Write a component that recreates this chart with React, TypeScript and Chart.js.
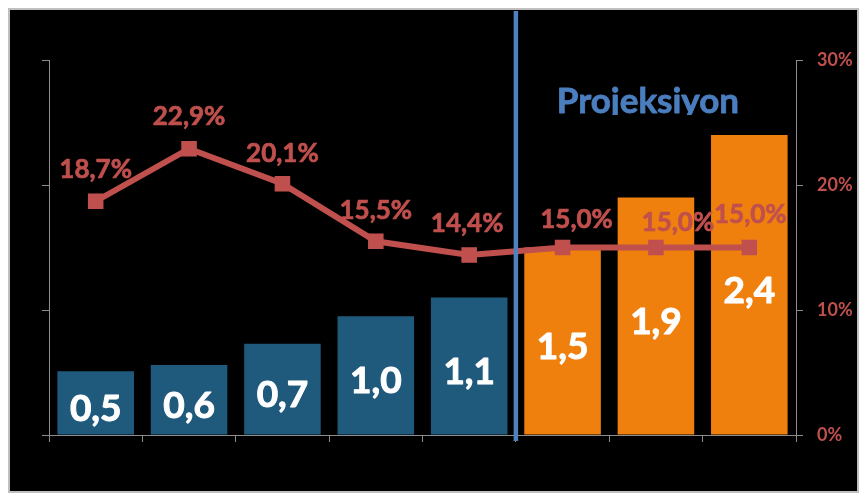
import React, { useEffect, useRef } from 'react';
import { Chart, registerables } from 'chart.js';

Chart.register(...registerables);

// ---- data ----
const categories = ['1', '2', '3', '4', '5', '6', '7', '8'];
const barValues = [0.51, 0.56, 0.73, 0.95, 1.1, 1.5, 1.9, 2.4];
const barLabels = ['0,5', '0,6', '0,7', '1,0', '1,1', '1,5', '1,9', '2,4'];
const growthValues = [18.7, 22.9, 20.1, 15.5, 14.4, 15.0, 15.0, 15.0];
const growthLabels = ['18,7%', '22,9%', '20,1%', '15,5%', '14,4%', '15,0%', '15,0%', '15,0%'];
const projectionStartIndex = 5;
const projectionTitle = 'Projeksiyon';
const leftAxisMax = 3;
const rightAxisMax = 30;
const rightAxisStep = 10;

// ---- styling (not data) ----
const BLUE_BAR = '#1F5A7C';
const ORANGE_BAR = '#EF800E';
const RED = '#C0504D';
const AXIS_GRAY = '#8c8c8c';
const FONT = 'Lato';
const lineLabelNudges: [number, number][] = [
  [0, -33], [0, -33], [0, -31], [0, -32], [-2, -32], [14, -29], [22, -26], [1, -34],
];

const W = 851;
const H = 485;

function boldText(ctx: CanvasRenderingContext2D, text: string, x: number, y: number, color: string, extra: number) {
  ctx.fillStyle = color;
  ctx.fillText(text, x, y);
  ctx.strokeStyle = color;
  ctx.lineWidth = extra;
  ctx.lineJoin = 'round';
  ctx.strokeText(text, x, y);
}

const overlayPlugin = {
  id: 'overlay',
  beforeDraw(chart: any) {
    const ctx = chart.ctx;
    ctx.save();
    ctx.fillStyle = '#000';
    ctx.fillRect(0, 0, chart.width, chart.height);
    ctx.restore();
  },
  afterDraw(chart: any) {
    const ctx = chart.ctx;
    const xs = chart.scales.x;
    ctx.save();
    // outer frame
    ctx.strokeStyle = '#bfbfbf';
    ctx.lineWidth = 2;
    ctx.strokeRect(1, 1, chart.width - 2, chart.height - 2);

    // bar labels
    const barMeta = chart.getDatasetMeta(1);
    ctx.font = `bold 37px ${FONT}`;
    ctx.textAlign = 'center';
    ctx.textBaseline = 'alphabetic';
    barMeta.data.forEach((el: any, i: number) => {
      const cy = (el.y + el.base) / 2 + 4.5;
      boldText(ctx, barLabels[i], el.x, cy + 0.36 * 37, '#ffffff', 1);
    });

    // line labels
    const lineMeta = chart.getDatasetMeta(0);
    ctx.font = `bold 26px ${FONT}`;
    lineMeta.data.forEach((pt: any, i: number) => {
      const [dx, dy] = lineLabelNudges[i];
      boldText(ctx, growthLabels[i], pt.x + dx, pt.y + dy + 0.36 * 26, RED, 0.7);
    });

    // projection divider
    const xb = (xs.getPixelForValue(projectionStartIndex - 1) + xs.getPixelForValue(projectionStartIndex)) / 2;
    ctx.strokeStyle = '#4F81BD';
    ctx.lineWidth = 4.5;
    ctx.beginPath();
    ctx.moveTo(xb, 3);
    ctx.lineTo(xb, chart.chartArea.bottom + 6);
    ctx.stroke();

    // projection title (clipped like a text box)
    ctx.beginPath();
    ctx.rect(0, 0, chart.width, 107);
    ctx.clip();
    ctx.font = `bold 35px ${FONT}`;
    boldText(ctx, projectionTitle, xs.getPixelForValue(6) - 8, 105, '#4A7EBF', 0.8);
    ctx.restore();
  },
};

export default function App() {
  const ref = useRef<HTMLCanvasElement | null>(null);
  useEffect(() => {
    if (!ref.current) return;
    const chart = new Chart(ref.current, {
      type: 'bar',
      data: {
        labels: categories,
        datasets: [
          {
            type: 'line',
            data: growthValues,
            yAxisID: 'y1',
            order: 0,
            borderColor: RED,
            backgroundColor: RED,
            borderWidth: 6,
            pointStyle: 'rect',
            pointRadius: 11,
            pointBorderWidth: 0,
            pointBackgroundColor: RED,
            tension: 0,
          } as any,
          {
            type: 'bar',
            data: barValues,
            yAxisID: 'y',
            order: 1,
            backgroundColor: barValues.map((_, i) => (i < projectionStartIndex ? BLUE_BAR : ORANGE_BAR)),
            barPercentage: 0.82,
            categoryPercentage: 1,
          },
        ],
      },
      options: {
        responsive: false,
        animation: false,
        layout: { padding: { top: 52, left: 0, right: 0, bottom: 0 } },
        plugins: { legend: { display: false }, tooltip: { enabled: false } },
        scales: {
          x: {
            grid: { display: true, drawOnChartArea: false, drawTicks: true, tickLength: 7, color: AXIS_GRAY, offset: true },
            border: { display: true, color: AXIS_GRAY, width: 1 },
            ticks: { display: false },
            afterFit: (s: any) => { s.height = 58; },
          },
          y: {
            position: 'left',
            min: 0,
            max: leftAxisMax,
            ticks: { display: false, stepSize: 1 },
            grid: { drawOnChartArea: false, drawTicks: true, tickLength: 7, color: AXIS_GRAY },
            border: { display: true, color: AXIS_GRAY, width: 1 },
            afterFit: (s: any) => { s.width = 41; },
          },
          y1: {
            position: 'right',
            min: 0,
            max: rightAxisMax,
            ticks: {
              stepSize: rightAxisStep,
              color: RED,
              padding: 14,
              font: { family: FONT, weight: 'bold', size: 18 },
              callback: (v: any) => `${v}%`,
            },
            grid: { drawOnChartArea: false, drawTicks: true, tickLength: 7, color: AXIS_GRAY },
            border: { display: true, color: AXIS_GRAY, width: 1 },
            afterFit: (s: any) => { s.width = 63; },
          },
        },
      } as any,
      plugins: [overlayPlugin],
    });
    return () => chart.destroy();
  }, []);
  return (
    <div style={{ width: W, height: H }}>
      <canvas ref={ref} width={W} height={H} style={{ display: 'block', width: W, height: H }} />
    </div>
  );
}
